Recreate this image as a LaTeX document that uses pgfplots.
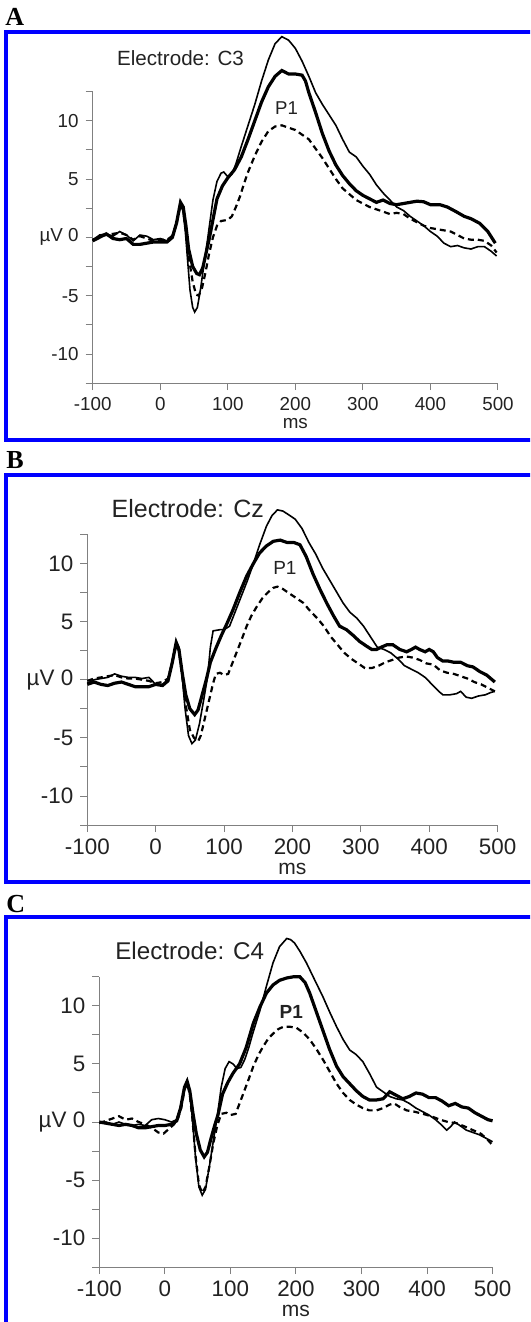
\documentclass[border=0pt]{standalone}
\usepackage{fontspec}
\setmainfont{Liberation Sans}
\newfontfamily\serifbf{Liberation Serif}
\usepackage{pgfplots}
\pgfplotsset{compat=1.18}
\definecolor{axgray}{HTML}{808080}
\definecolor{txt}{HTML}{222222}

% common look of the three ERP panels (1 px of the reference = 0.5pt)
\pgfplotsset{
  erp/.style={
    scale only axis, anchor=south west, clip=false,
    xmin=-100, xmax=500, ymin=-12.5, ymax=12.5,
    axis x line=bottom, axis y line=left, axis line style={-, axgray, line width=0.6pt},
    xtick={-100,0,100,200,300,400,500},
    xticklabels={-100,0,100,200,300,400,500},
    ytick={-10,-5,0,5,10},
    yticklabels={-10,-5,µV 0,5,10},
    minor ytick={-12.5,-7.5,-2.5,2.5,7.5,12.5},
    tick align=outside, major tick length=3.5pt, minor tick length=3.5pt,
    tick style={axgray, line width=0.5pt},
    ticklabel style={text=txt},
    xlabel={ms}, label style={text=txt},
  },
  thin/.style={black, line width=0.8pt},
  thick/.style={black, line width=1.6pt},
  dash/.style={black, line width=1.1pt, dash pattern=on 3pt off 2pt},
}

\begin{document}
\begin{tikzpicture}
\path[use as bounding box] (0,0) rectangle (265pt,-661pt);
\begin{scope}
\clip (0,0) rectangle (265pt,-661pt);
% blue frames
\draw[blue, line width=2pt] (280pt,-16pt) -- (2.75pt,-16pt) -- (2.75pt,-220pt) -- (280pt,-220pt);
\draw[blue, line width=2pt] (280pt,-237.25pt) -- (2.75pt,-237.25pt) -- (2.75pt,-441pt) -- (280pt,-441pt);
\draw[blue, line width=2pt] (280pt,-458.5pt) -- (2.75pt,-458.5pt) -- (2.75pt,-700pt);
\end{scope}
\node[anchor=base west, inner sep=0pt, font=\serifbf\bfseries\fontsize{13}{13}\selectfont] at (2.5pt,-13pt) {A};
\node[anchor=base west, inner sep=0pt, font=\serifbf\bfseries\fontsize{13}{13}\selectfont] at (3pt,-234pt) {B};
\node[anchor=base west, inner sep=0pt, font=\serifbf\bfseries\fontsize{13}{13}\selectfont] at (3pt,-456pt) {C};

% ---------- A: C3 ----------
\begin{axis}[erp, at={(46.35pt,-191.6pt)}, width=202.65pt, height=145.85pt,
  ticklabel style={font=\fontsize{9.4}{10}\selectfont},
  xlabel style={font=\fontsize{9.4}{10}\selectfont, yshift=3pt}]
\addplot[thin] coordinates {(-100,-0.3) (-90,0.2) (-80,0.3) (-70,0.1) (-60,0.5) (-50,0.2) (-40,-0.3) (-30,0.2) (-20,0.1) (-10,-0.2) (0,-0.1) (10,-0.3) (18,0.2) (24,1.3) (30,2.9) (33,2.5) (37,0.6) (40,-1.6) (44,-4.5) (48,-6.0) (51,-6.4) (55,-6.0) (60,-4.3) (65,-2.2) (70,-0.2) (74,1.5) (78,3.2) (84,4.8) (90,5.5) (94,5.6) (100,5.2) (106,5.4) (112,6.3) (120,7.8) (130,9.6) (140,11.4) (150,13.4) (160,15.2) (170,16.6) (180,17.2) (190,16.9) (200,16.2) (210,15.1) (220,13.8) (230,12.4) (240,11.4) (250,10.5) (260,9.6) (270,8.4) (280,7.3) (290,6.9) (300,6.1) (310,5.4) (320,4.5) (330,3.8) (340,3.2) (350,2.6) (360,2.3) (370,1.8) (380,1.4) (390,1.0) (400,0.5) (410,0.1) (420,-0.5) (430,-0.8) (440,-0.7) (450,-0.9) (460,-1.0) (470,-0.8) (480,-0.8) (490,-1.2) (498,-1.6)};
\addplot[thick] coordinates {(-100,-0.3) (-90,0.0) (-80,0.3) (-70,-0.1) (-60,-0.2) (-50,-0.1) (-40,-0.6) (-30,-0.6) (-20,-0.5) (-10,-0.4) (0,-0.4) (10,-0.4) (18,0.0) (24,1.2) (30,3.0) (34,2.6) (38,1.0) (42,-1.0) (48,-2.5) (54,-3.1) (58,-3.2) (63,-2.6) (68,-1.3) (73,0.0) (78,1.5) (84,3.3) (92,4.4) (100,5.1) (110,5.8) (120,6.9) (130,8.4) (140,10.0) (150,11.6) (160,12.9) (170,13.8) (180,14.3) (190,14.0) (200,14.0) (210,13.9) (215,13.4) (220,12.4) (230,10.7) (240,8.9) (250,7.4) (260,6.2) (270,5.3) (280,4.6) (290,4.0) (300,3.6) (310,3.3) (320,3.0) (330,3.2) (340,2.9) (350,2.8) (360,2.9) (370,3.0) (380,3.1) (390,3.05) (400,2.8) (414,2.8) (425,2.6) (438,2.2) (450,1.8) (460,1.6) (473,1.2) (485,0.5) (496,-0.5)};
\addplot[dash] coordinates {(-100,-0.2) (-90,0.1) (-80,0.2) (-70,0.3) (-60,0.4) (-50,0.2) (-40,-0.2) (-30,0.1) (-20,-0.1) (-10,-0.3) (0,-0.2) (10,-0.2) (18,0.1) (24,1.1) (30,2.8) (34,2.3) (38,0.5) (43,-2.0) (48,-3.8) (53,-4.9) (57,-5.0) (62,-4.3) (67,-3.0) (72,-1.5) (78,0.0) (84,1.0) (90,1.4) (100,1.5) (106,1.8) (112,2.6) (118,3.5) (124,4.6) (130,5.6) (140,7.0) (150,8.2) (160,9.1) (170,9.5) (180,9.6) (190,9.4) (200,9.2) (210,8.8) (220,8.4) (230,7.6) (240,6.8) (250,5.9) (260,5.0) (270,4.2) (280,3.7) (290,3.2) (300,2.9) (310,2.6) (320,2.4) (330,2.2) (340,2.0) (350,2.1) (360,2.0) (370,1.6) (380,1.3) (390,1.0) (400,0.8) (410,0.7) (420,0.6) (430,0.5) (440,0.2) (450,-0.1) (460,-0.2) (470,-0.2) (480,-0.3) (490,-0.7) (498,-1.3)};
\node[text=txt, font=\fontsize{10.3}{11}\selectfont] at (axis cs:30,15.4) {Electrode: C3};
\node[text=txt, font=\fontsize{9.3}{10}\selectfont] at (axis cs:187,11.1) {P1};
\end{axis}

% ---------- B: Cz ----------
\begin{axis}[erp, at={(43.65pt,-412.55pt)}, width=205.15pt, height=145.4pt,
  ticklabel style={font=\fontsize{11.2}{12}\selectfont},
  xlabel style={font=\fontsize{10.5}{11}\selectfont, yshift=3pt}]
\addplot[thin] coordinates {(-100,-0.3) (-90,0.0) (-80,0.1) (-70,0.2) (-60,0.5) (-50,0.3) (-40,0.2) (-30,0.2) (-20,0.1) (-10,0.2) (0,-0.4) (10,-0.4) (18,0.0) (24,1.6) (30,3.3) (34,2.8) (38,0.8) (43,-2.5) (48,-4.8) (53,-5.5) (58,-5.2) (64,-3.8) (70,-1.8) (76,0.3) (80,2.8) (84,4.2) (94,4.3) (100,4.3) (108,4.6) (116,5.8) (124,7.0) (134,8.5) (143,10.0) (152,11.6) (162,13.2) (170,14.1) (178,14.6) (186,14.5) (194,14.2) (204,13.8) (214,13.0) (224,11.8) (234,10.8) (244,9.6) (254,8.6) (264,7.6) (274,6.6) (284,5.8) (294,5.3) (304,4.6) (314,3.7) (324,2.8) (334,2.6) (344,2.3) (354,1.8) (364,1.2) (374,0.9) (384,0.6) (394,0.2) (404,-0.4) (414,-1.0) (420,-1.3) (430,-1.3) (440,-1.2) (446,-1.0) (454,-1.5) (462,-1.6) (472,-1.4) (482,-1.3) (490,-1.1) (496,-1.0)};
\addplot[thick] coordinates {(-100,-0.4) (-90,-0.2) (-80,-0.4) (-70,-0.5) (-60,-0.3) (-50,-0.2) (-40,-0.4) (-30,-0.6) (-20,-0.6) (-10,-0.6) (0,-0.4) (10,-0.5) (18,-0.1) (24,1.4) (30,3.2) (34,2.6) (39,0.5) (44,-1.3) (50,-2.5) (57,-3.0) (62,-2.6) (68,-1.3) (74,0.0) (80,1.5) (88,2.7) (96,3.8) (104,4.8) (113,6.0) (123,7.5) (133,8.9) (143,10.0) (152,10.9) (162,11.5) (172,11.9) (182,12.0) (192,11.8) (202,11.8) (211,11.6) (220,10.6) (230,9.1) (240,7.8) (250,6.6) (260,5.5) (269,4.6) (279,4.3) (289,3.8) (298,3.3) (308,2.9) (316,2.6) (323,2.6) (330,2.8) (338,3.0) (347,3.0) (357,2.6) (367,2.4) (374,2.6) (380,2.8) (386,2.6) (394,2.4) (400,2.6) (406,2.4) (412,1.9) (420,1.6) (428,1.6) (436,1.5) (446,1.5) (456,1.2) (464,1.1) (474,0.7) (484,0.4) (496,-0.2)};
\addplot[dash] coordinates {(-100,-0.1) (-90,0.1) (-80,0.2) (-70,0.3) (-60,0.4) (-50,0.2) (-40,0.1) (-30,0.1) (-20,0.0) (-10,-0.1) (0,-0.3) (10,-0.2) (18,0.1) (24,1.4) (30,3.0) (34,2.5) (39,0.2) (44,-2.2) (50,-4.3) (56,-5.0) (62,-5.3) (66,-4.8) (72,-3.3) (78,-1.8) (84,-0.3) (88,0.5) (94,0.6) (100,0.4) (106,0.5) (112,1.4) (118,2.3) (126,3.5) (133,4.6) (140,5.5) (148,6.3) (156,7.0) (164,7.5) (172,7.9) (178,8.0) (186,7.8) (196,7.4) (206,7.0) (216,6.6) (226,5.9) (236,5.3) (246,4.6) (256,3.7) (266,3.0) (276,2.3) (286,1.8) (296,1.4) (306,1.0) (316,1.0) (326,1.2) (336,1.5) (346,1.7) (356,1.9) (366,2.0) (376,1.9) (386,1.7) (396,1.4) (406,1.3) (416,0.8) (426,0.6) (436,0.5) (446,0.3) (456,0.1) (466,-0.2) (476,-0.4) (486,-0.7) (496,-1.0)};
\node[text=txt, font=\fontsize{12.5}{13}\selectfont] at (axis cs:47,14.7) {Electrode: Cz};
\node[text=txt, font=\fontsize{9.5}{10}\selectfont] at (axis cs:189,9.6) {P1};
\end{axis}

% ---------- C: C4 ----------
\begin{axis}[erp, at={(49.65pt,-633.6pt)}, width=196.65pt, height=145.2pt,
  ticklabel style={font=\fontsize{11.2}{12}\selectfont},
  xlabel style={font=\fontsize{10.5}{11}\selectfont, yshift=3pt}]
\addplot[thin] coordinates {(-100,-0.1) (-90,0.0) (-80,-0.2) (-70,0.0) (-60,-0.2) (-50,-0.3) (-40,-0.2) (-30,-0.3) (-20,0.2) (-10,0.3) (0,0.2) (10,0.0) (18,0.2) (24,1.2) (30,3.0) (34,3.6) (38,2.6) (42,0.3) (47,-3.2) (52,-5.6) (57,-6.3) (62,-5.8) (68,-3.8) (74,-1.6) (80,0.5) (86,3.0) (92,4.6) (98,5.2) (104,5.0) (110,4.6) (116,4.7) (122,5.4) (128,6.4) (134,7.6) (145,9.6) (155,11.7) (165,13.7) (175,15.1) (186,15.8) (192,15.7) (198,15.4) (206,14.7) (216,13.7) (228,12.3) (241,10.8) (252,9.4) (262,8.2) (272,7.1) (282,6.2) (292,5.8) (302,5.2) (312,4.2) (323,3.0) (333,2.6) (343,2.2) (353,2.0) (363,1.9) (373,1.6) (383,1.2) (393,0.9) (403,0.6) (413,0.2) (423,-0.3) (430,-0.7) (436,-0.4) (442,0.0) (450,-0.3) (460,-0.7) (470,-0.9) (480,-1.1) (490,-1.4) (500,-1.7)};
\addplot[thick] coordinates {(-100,0.0) (-90,-0.1) (-80,-0.2) (-70,-0.3) (-60,-0.2) (-50,-0.3) (-40,-0.5) (-30,-0.5) (-20,-0.4) (-10,-0.3) (0,-0.3) (10,-0.2) (18,0.1) (24,1.2) (30,3.0) (34,3.5) (38,2.7) (43,0.7) (48,-1.0) (54,-2.4) (60,-3.0) (65,-2.6) (70,-1.5) (76,-0.3) (81,0.6) (88,2.4) (96,3.4) (104,4.2) (114,5.0) (124,6.4) (135,8.5) (145,9.9) (155,11.1) (165,11.8) (175,12.2) (186,12.4) (196,12.5) (206,12.5) (214,12.0) (221,11.1) (231,9.5) (241,7.9) (251,6.3) (262,4.8) (272,3.9) (282,3.3) (292,2.7) (302,2.2) (312,1.9) (323,1.9) (333,2.0) (343,2.6) (353,2.3) (363,2.0) (373,2.2) (383,2.5) (393,2.4) (403,2.1) (413,2.1) (423,1.8) (433,1.4) (443,1.6) (453,1.3) (463,1.2) (473,0.8) (483,0.5) (493,0.2) (500,0.1)};
\addplot[dash] coordinates {(-100,-0.1) (-90,0.1) (-80,0.3) (-70,0.5) (-60,0.2) (-50,0.3) (-40,0.0) (-30,-0.2) (-20,-0.5) (-10,-0.9) (-2,-1.0) (6,-0.6) (14,-0.2) (20,0.3) (25,1.2) (30,2.8) (34,3.3) (38,2.4) (42,0.3) (47,-3.0) (52,-5.4) (57,-6.1) (62,-5.6) (68,-3.8) (74,-1.8) (80,-0.3) (86,0.7) (94,0.8) (100,0.6) (108,0.7) (114,1.6) (120,2.5) (128,3.7) (135,4.8) (143,5.8) (150,6.5) (158,7.2) (165,7.6) (173,8.0) (181,8.2) (191,8.2) (201,8.1) (211,7.7) (221,7.1) (231,6.3) (242,5.3) (252,4.3) (262,3.3) (272,2.5) (282,1.9) (292,1.5) (302,1.2) (312,1.0) (323,1.0) (333,1.2) (343,1.5) (350,1.6) (358,1.3) (369,1.0) (380,0.9) (394,0.7) (406,0.5) (420,0.2) (432,0.0) (445,-0.1) (458,-0.4) (470,-0.7) (482,-1.0) (492,-1.5) (500,-2.0)};
\node[text=txt, font=\fontsize{12.1}{13}\selectfont] at (axis cs:38,14.7) {Electrode: C4};
\node[text=txt, font=\bfseries\fontsize{9.5}{10}\selectfont] at (axis cs:193,9.5) {P1};
\end{axis}
\end{tikzpicture}
\end{document}
